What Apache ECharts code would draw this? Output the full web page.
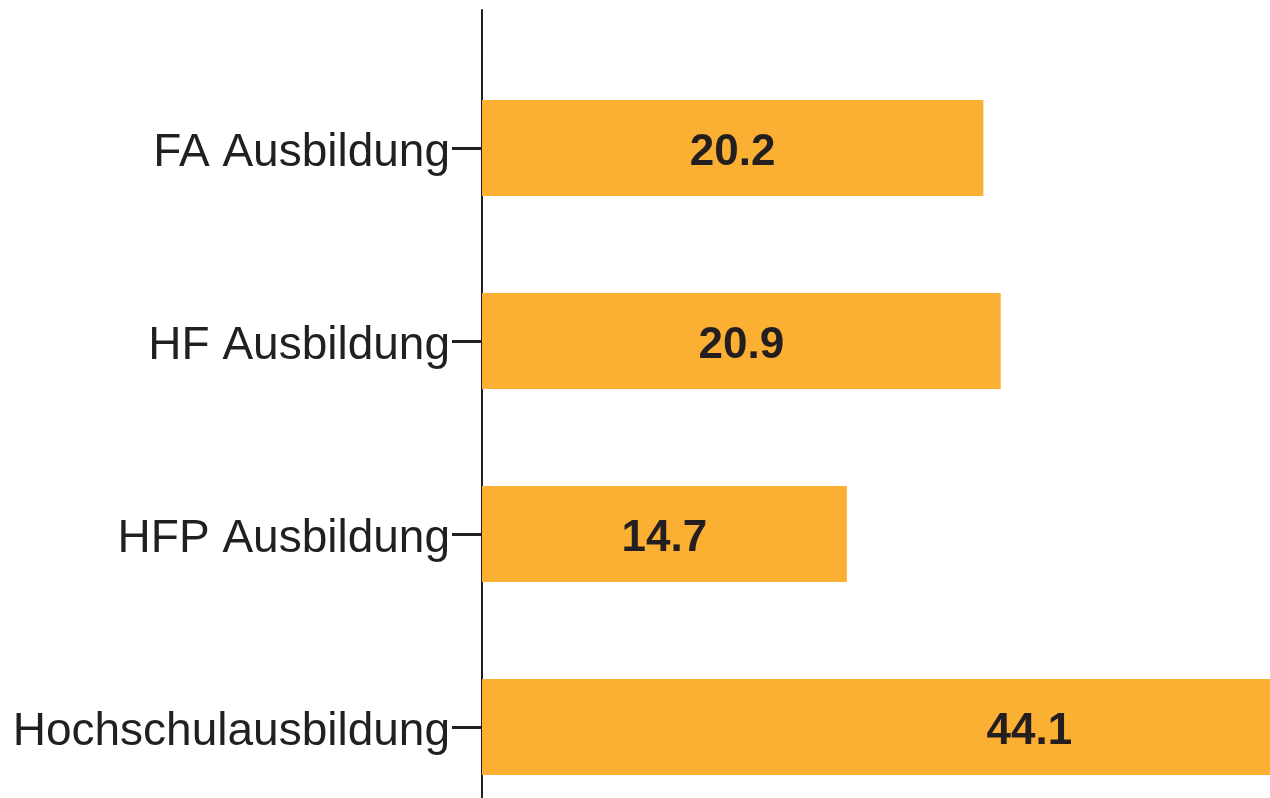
<!DOCTYPE html>
<html>
<head>
<meta charset="utf-8">
<script src="https://cdn.jsdelivr.net/npm/echarts@6/dist/echarts.min.js"></script>
<style>
  html, body { margin: 0; padding: 0; background: #fff; }
  #main { width: 1270px; height: 798px; }
</style>
</head>
<body>
<div id="main"></div>
<script>
var categories = ['FA Ausbildung', 'HF Ausbildung', 'HFP Ausbildung', 'Hochschulausbildung'];
var values = [20.2, 20.9, 14.7, 44.1];

var barColor = '#FBB034';
var textColor = '#231F20';

var myChart = echarts.init(document.getElementById('main'));

var option = {
    animation: false,
    grid: [
        // main plot, bars run past the right edge of the canvas
        { left: 482, top: 51.5, height: 772, width: 1241, outerBoundsMode: 'none' },
        // only used for the longer axis line above the first bar
        { left: 482, top: 10, bottom: -40, width: 10, outerBoundsMode: 'none' }
    ],
    xAxis: [
        { type: 'value', gridIndex: 0, min: 0, max: 50, show: false },
        { type: 'value', gridIndex: 1, show: false }
    ],
    yAxis: [
        {
            type: 'category',
            gridIndex: 0,
            data: categories,
            inverse: true,
            axisLine: { show: true, lineStyle: { color: textColor, width: 2 } },
            axisTick: { show: true, alignWithLabel: true, length: 30, lineStyle: { color: textColor, width: 3 } },
            axisLabel: {
                margin: 32,
                formatter: function (v) { return '{t|' + v + '}'; },
                rich: {
                    t: {
                        color: textColor,
                        fontFamily: 'Liberation Sans',
                        fontSize: 46,
                        padding: [10, 0, 0, 0]
                    }
                }
            }
        },
        {
            type: 'value',
            gridIndex: 1,
            axisLine: { show: true, lineStyle: { color: textColor, width: 2 } },
            axisTick: { show: false },
            axisLabel: { show: false },
            splitLine: { show: false }
        }
    ],
    series: [
        {
            type: 'bar',
            xAxisIndex: 0,
            yAxisIndex: 0,
            data: values,
            barWidth: 96,
            clip: false,
            itemStyle: { color: barColor },
            label: {
                show: true,
                position: 'inside',
                offset: [0, 5],
                color: textColor,
                fontFamily: 'Liberation Sans',
                fontWeight: 'bold',
                fontSize: 44,
                formatter: function (p) { return p.value.toFixed(1); }
            }
        }
    ]
};

option && myChart.setOption(option);
</script>
</body>
</html>
